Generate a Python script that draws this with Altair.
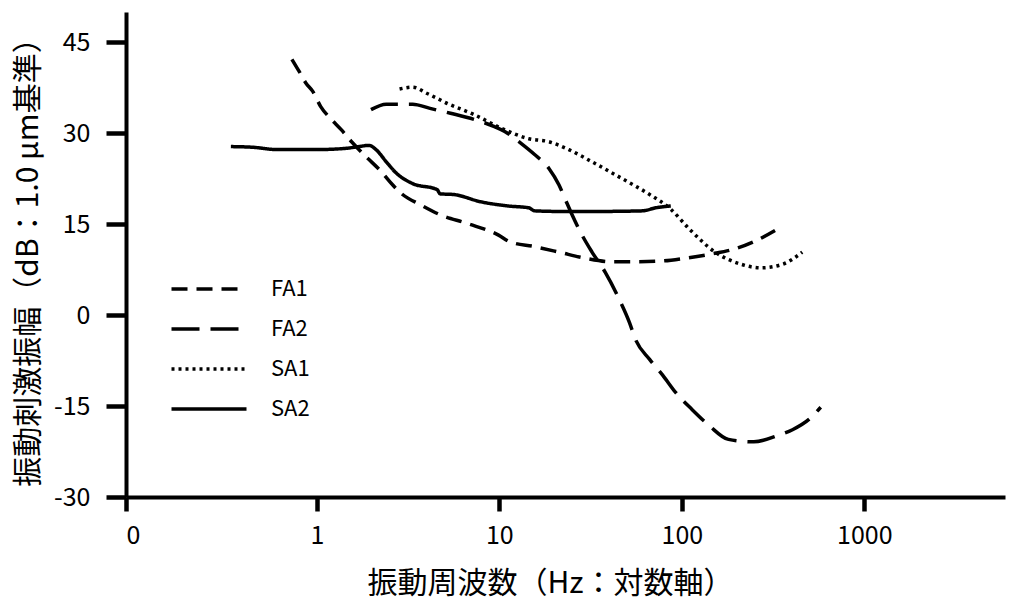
import altair as alt
import pandas as pd

# ---- data (frequency Hz, amplitude dB) ----
fa1_f = [0.73, 0.80, 0.87, 0.95, 1.05, 1.2, 1.36, 1.55, 1.85, 2.25, 2.6, 2.95, 3.7, 4.7, 6.7, 9.9,
         11.4, 15.6, 21.2, 29.5, 41.6, 55.7, 75.5, 105, 146, 194, 260, 353]
fa1_v = [42.2, 40.2, 38.3, 36.9, 34.4, 32.3, 30.6, 28.6, 26.2, 23.7, 21.5, 19.9, 18.2, 16.6, 15.1, 13.2,
         12.1, 11.3, 10.4, 9.4, 8.8, 8.8, 8.9, 9.4, 10.1, 10.9, 12.4, 14.6]

fa2_f = [1.98, 2.4, 3.35, 4.17, 5.4, 7.25, 9.4, 10.7, 13.2, 15.6, 18.7, 21.2, 22.9, 25, 28.4, 32.2,
         38, 45.4, 51.6, 55.7, 66.6, 78.5, 92.7, 114, 141, 180, 248, 332, 404, 497, 577]
fa2_v = [33.9, 34.8, 34.8, 34.1, 33.3, 32.3, 31.1, 30.3, 28.3, 26.5, 24.2, 21.5, 19.2, 16.6, 13.2, 10.4,
         7.1, 2.6, -1.2, -4.0, -7.3, -9.9, -12.8, -15.6, -18.2, -20.5, -20.9, -19.9, -18.9, -17.2, -15.2]

sa1_f = [2.84, 3.35, 4.0, 5.2, 7.25, 10.3, 14.5, 18.7, 24, 33.5, 47.2, 66.6, 86, 110, 152, 211, 270, 357, 457]
sa1_v = [37.3, 37.6, 36.6, 34.9, 33.1, 30.8, 29.1, 28.6, 27.3, 25.0, 22.5, 19.9, 17.6, 14.2, 10.4, 8.4, 7.8, 8.4, 10.4]

sa2_f = [0.338, 0.44, 0.61, 0.98, 1.43, 1.7, 1.93, 2.11, 2.4, 2.73, 3.35, 4.56, 4.74, 5.6, 7.9, 11.2,
         14.5, 15.6, 22, 33.5, 61, 71.8, 87]
sa2_v = [27.8, 27.7, 27.3, 27.3, 27.5, 27.8, 28.0, 27.3, 25.3, 23.4, 21.7, 20.7, 20.0, 19.9, 18.7, 18.0,
         17.7, 17.2, 17.1, 17.1, 17.2, 17.7, 18.0]

series = ["FA1", "FA2", "SA1", "SA2"]
x_ticks = [0.09, 1, 10, 100, 1000]
y_ticks = [-30, -15, 0, 15, 30, 45]

rows = []
for name, fs, vs in [("FA1", fa1_f, fa1_v), ("FA2", fa2_f, fa2_v),
                     ("SA1", sa1_f, sa1_v), ("SA2", sa2_f, sa2_v)]:
    for i, (f, v) in enumerate(zip(fs, vs)):
        rows.append({"series": name, "freq": f, "amp": v, "order": i})
df = pd.DataFrame(rows)

FONT = "Noto Sans CJK JP"

chart = alt.Chart(df).mark_line(color="black", strokeWidth=3.5, interpolate="monotone").encode(
    x=alt.X("freq:Q",
            scale=alt.Scale(type="log", domain=[0.09, 5900], nice=False),
            axis=alt.Axis(values=x_ticks, labelExpr="datum.value < 0.5 ? '0' : '' + datum.value",
                          title="振動周波数（Hz：対数軸）", grid=False,
                          titleX=424, titlePadding=20, labelPadding=12)),
    y=alt.Y("amp:Q",
            scale=alt.Scale(domain=[-30, 50], nice=False),
            axis=alt.Axis(values=y_ticks, labelExpr="'' + datum.value",
                          title="振動刺激振幅（dB：1.0 μm基準）", grid=False,
                          titlePadding=10, labelPadding=16)),
    strokeDash=alt.StrokeDash("series:N",
                              scale=alt.Scale(domain=series,
                                              range=[[16, 9], [28, 11], [3, 4], [1, 0]]),
                              legend=alt.Legend(title=None, orient="none", legendX=66, legendY=260,
                                                symbolType="M-2.5,0L2.5,0", symbolSize=900,
                                                symbolStrokeWidth=3.5, symbolStrokeColor="black",
                                                symbolFillColor="transparent",
                                                padding=0, rowPadding=12, labelOffset=45)),
    order="order:Q",
).properties(
    width=879, height=485,
    autosize=alt.AutoSizeParams(type="none"),
    padding={"left": 126, "top": 12, "right": 16, "bottom": 104},
).configure_view(stroke=None).configure_axis(
    domainColor="black", domainWidth=4, tickColor="black", tickWidth=4.5, tickSize=20,
    labelFont=FONT, labelFontSize=25, labelColor="black",
    titleFont=FONT, titleFontSize=30, titleColor="black", titleFontWeight="normal",
).configure_axisX(tickSize=14).configure_legend(
    labelFontSize=22, labelFont=FONT, labelColor="black",
)

chart.save("out.html", embed_options={"renderer": "svg", "actions": False})
